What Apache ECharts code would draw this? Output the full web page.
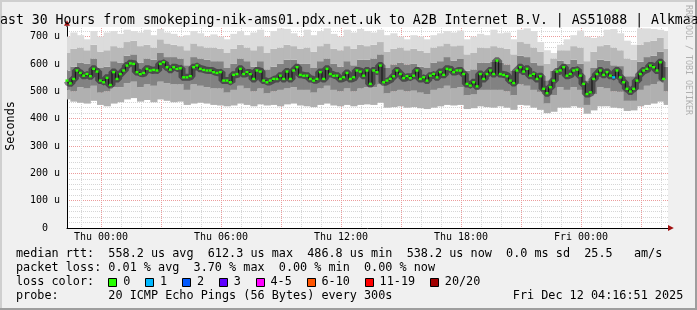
<!DOCTYPE html>
<html><head><meta charset="utf-8">
<script src="https://cdn.jsdelivr.net/npm/echarts@6/dist/echarts.min.js"></script>
<style>html,body{margin:0;padding:0;background:#f0f0f0}#c{width:697px;height:310px}</style>
</head><body><div id="c"></div>
<script>
// ---------- DATA ----------
// time in hours relative to Thu 00:00
const xMin = -1.7, xMax = 28.35;
const yMin = 0, yMax = 735;
const medianStart = -1.7;      // hours
const medianStepH = 10 / 60;   // 10 minutes
// median rtt (microseconds), one value per 10 minutes
const median = [
 539,529,545,576,567,557,563,555,582,572,
 539,533,549,523,570,545,563,576,594,602,
 600,570,563,567,582,576,578,576,600,606,
 588,579,588,582,584,551,551,555,588,594,
 582,578,576,576,570,567,570,539,539,533,
 560,563,582,563,570,563,545,576,572,539,
 533,539,545,545,557,545,572,545,576,588,
 560,557,557,545,539,545,570,545,582,563,
 557,557,
 545,551,567,545,551,576,572,557,576,527,
 576,570,594,533,539,545,555,576,563,548,
 555,548,557,576,545,551,539,557,563,551,
 570,560,582,579,570,576,576,563,527,521,
 533,518,563,545,563,576,563,612,563,560,
 555,539,530,576,588,572,582,557,563,545,
 555,509,493,515,539,572,576,588,557,563,
 576,579,557,527,490,496,545,563,576,560,
 570,557,551,576,551,533,509,499,509,539,
 563,576,582,594,588,576,606,545
];
// [median index, lost pings]
const lossEvents = [[164, 1]];
// smoke envelopes (microseconds), one value per 20 minutes
const smokeStart = -1.7, smokeStepH = 20 / 60;
const smokeMin = [470,462,458,455,465,450,445,455,460,470,475,462,468,460,470,465,460,462,450,455,
 458,455,450,448,445,448,455,450,445,452,448,450,445,452,455,448,445,442,450,455,
 448,445,450,445,450,452,450,458,440,442,445,440,442,438,435,440,445,450,448,450,
 435,438,445,442,440,445,440,432,450,448,440,432,420,425,440,440,445,440,418,430,
 445,445,440,438,428,430,445,450,455,462,450];
const smokeLo = [505,500,515,510,520,495,500,515,515,530,535,515,525,520,535,530,525,525,505,525,
 520,515,510,510,495,505,520,510,500,510,492,500,505,510,515,505,505,495,510,520,
 505,500,510,500,510,515,515,525,492,500,505,500,502,495,490,505,510,520,510,515,
 485,488,505,505,505,505,500,485,525,520,505,498,455,485,515,505,515,505,450,490,
 515,510,500,498,465,465,505,520,525,535,500];
const smokeHi = [575,590,605,600,620,585,590,610,605,630,635,605,620,615,640,625,625,620,595,625,
 620,615,610,610,585,600,620,610,590,610,580,590,600,615,615,600,600,585,610,620,
 600,590,610,595,615,615,620,635,585,598,605,598,600,590,585,605,610,625,612,618,
 575,580,605,605,608,605,598,575,630,625,605,595,540,575,612,600,615,600,540,585,
 615,612,595,592,555,555,608,625,630,645,590];
const smokeUp = [640,655,660,650,670,645,650,665,660,680,685,665,670,660,690,675,670,665,650,675,
 665,660,660,655,640,655,670,660,650,665,640,655,660,670,665,655,660,645,665,675,
 655,650,665,655,670,665,670,680,645,655,660,650,655,648,640,660,665,675,665,668,
 635,640,660,658,665,660,655,635,680,675,660,645,600,620,650,650,665,660,610,645,
 665,670,660,650,620,615,670,680,685,695,655];
const smokeMax = [700,715,705,690,720,700,715,720,710,725,720,715,725,705,728,715,710,700,705,720,
 712,700,708,700,690,710,720,705,715,725,700,720,730,728,712,700,725,705,720,730,
 710,700,725,715,728,720,715,725,705,712,700,690,705,700,690,705,712,720,715,722,
 690,700,710,705,725,712,715,690,725,730,720,680,650,640,670,690,705,722,700,695,
 700,725,728,712,685,670,730,730,728,725,720];
// axis ticks
const xTickHours = [0, 6, 12, 18, 24];
const xTickLabels = ['Thu 00:00', 'Thu 06:00', 'Thu 12:00', 'Thu 18:00', 'Fri 00:00'];
const lossLabels = ['0', '1', '2', '3', '4-5', '6-10', '11-19', '20/20'];
const lossColors = ['#26ff00', '#00b8ff', '#0059ff', '#5e00ff', '#ff00ff', '#ff5500', '#ff0000', '#a10000'];
const titleText = 'ast 30 Hours from smokeping-nik-ams01.pdx.net.uk to A2B Internet B.V. | AS51088 | Alkmaa';
const legendRow1 = 'median rtt:  558.2 us avg  612.3 us max  486.8 us min  538.2 us now  0.0 ms sd  25.5   am/s';
const legendRow2 = 'packet loss: 0.01 % avg  3.70 % max  0.00 % min  0.00 % now';
const legendRow3 = 'loss color:';
const legendRow4 = 'probe:       20 ICMP Echo Pings (56 Bytes) every 300s';
const dateText = 'Fri Dec 12 04:16:51 2025';

// ---------- BUILD ----------
const mono = "'DejaVu Sans Mono', monospace";
const majorGridColor = '#ec9c9c', minorGridColor = '#d6d6d6';
const chart = echarts.init(document.getElementById('c'), null, {renderer: 'canvas'});

const lossAt = {};
lossEvents.forEach(([k, n]) => lossAt[k] = n);
const medianData = median.map((v, k) => ({
  value: [medianStart + k * medianStepH, v],
  itemStyle: {color: lossColors[lossAt[k] || 0]}
}));
const smokeData = smokeMin.map((v, j) => [smokeStart + j * smokeStepH, v, smokeLo[j], smokeHi[j], smokeUp[j], smokeMax[j]]);
const bandColors = ['#b0b0b0', '#828282', '#b8b8b8', '#dcdcdc'];

function renderSmoke(params, api) {
  const t = api.value(0);
  const w = api.size([smokeStepH, 0])[0];
  const children = [];
  for (let b = 0; b < 4; b++) {
    const p0 = api.coord([t, api.value(1 + b)]);
    const p1 = api.coord([t, api.value(2 + b)]);
    children.push({type: 'rect', shape: {x: p0[0] - w / 2, y: p1[1], width: w + 0.5, height: p0[1] - p1[1]},
      style: {fill: bandColors[b]}});
  }
  return {type: 'group', children};
}

const option = {
  backgroundColor: '#f0f0f0',
  animation: false,
  grid: {left: 67, right: 29, top: 27, bottom: 82, show: true, backgroundColor: '#ffffff', borderWidth: 0},
  xAxis: [{
    type: 'value', min: xMin, max: xMax, z: 3,
    axisLine: {show: true, onZero: false, lineStyle: {color: '#000', width: 1}},
    axisTick: {show: false}, splitLine: {show: false},
    axisLabel: {customValues: xTickHours, formatter: v => {const i = xTickHours.indexOf(v); return i >= 0 ? xTickLabels[i] : '';},
      color: '#000', fontFamily: mono, fontSize: 10, margin: 4}
  }],
  yAxis: [{
    type: 'value', position: 'left', min: yMin, max: yMax, interval: 20, z: 0,
    axisLine: {show: false}, axisTick: {show: false}, axisLabel: {show: false},
    splitLine: {show: true, showMinLine: false, showMaxLine: false, lineStyle: {color: minorGridColor, type: [1, 1], width: 1}}
  }, {
    type: 'value', position: 'left', min: yMin, max: yMax, interval: 100, z: 1,
    axisLine: {show: true, lineStyle: {color: '#000', width: 1}}, axisTick: {show: false},
    axisLabel: {color: '#000', fontFamily: mono, fontSize: 10, margin: 7, showMaxLabel: false,
      formatter: v => v === 0 ? '0  ' : v + ' u'},
    splitLine: {show: true, showMinLine: false, showMaxLine: false, lineStyle: {color: majorGridColor, type: [1, 1], width: 1}}
  }],
  series: [
    {type: 'custom', renderItem: renderSmoke, data: smokeData, z: 2, silent: true, clip: true,
      encode: {x: 0, y: [1, 5]}},
    {type: 'line', step: 'middle', data: medianData.map(d => d.value), symbol: 'none', z: 3, silent: true,
      lineStyle: {color: 'rgba(20,20,20,0.5)', width: 7}},
    {type: 'line', step: 'middle', data: medianData, z: 4, silent: true,
      symbol: 'rect', symbolSize: [3, 2.4], showSymbol: true, showAllSymbol: true,
      lineStyle: {color: '#111', width: 1}, itemStyle: {color: lossColors[0], borderWidth: 0}}
  ]
};
chart.setOption(option);

// ---------- decorations / text ----------
const pX = chart.convertToPixel({gridIndex: 0}, [xMax, yMin]);
const pY = chart.convertToPixel({gridIndex: 0}, [xMin, yMax]);
const cw = 7.1, lx = 16;
const rowY = [253.8, 267.8, 281.8, 295.6];
function txt(text, x, y, size, extra) {
  return {type: 'text', x, y, z: 100, silent: true,
    style: Object.assign({text, fill: '#000', fontFamily: mono, fontSize: size,
      font: size + 'px ' + mono,
      align: 'left', verticalAlign: 'middle', textAlign: 'left', textVerticalAlign: 'middle'}, extra || {})};
}
const g = [];
// vertical time grid lines (hourly minor, 3-hourly major), placed through the x scale, under the smoke
for (let h = Math.ceil(xMin); h <= Math.floor(xMax); h++) {
  const a = chart.convertToPixel({gridIndex: 0}, [h, yMin]);
  const b = chart.convertToPixel({gridIndex: 0}, [h, yMax]);
  const x = Math.round(a[0]) + 0.5;
  g.push({type: 'line', z: 1, silent: true, shape: {x1: x, y1: Math.round(a[1]) - 1, x2: x, y2: Math.round(b[1])},
    style: {stroke: h % 3 === 0 ? majorGridColor : minorGridColor, lineWidth: 1, lineDash: [1, 1]}});
}
// frame
g.push({type: 'rect', z: 99, silent: true, shape: {x: 0, y: 0, width: 697, height: 2}, style: {fill: '#cfcfcf'}});
g.push({type: 'rect', z: 99, silent: true, shape: {x: 0, y: 0, width: 2, height: 310}, style: {fill: '#cfcfcf'}});
g.push({type: 'rect', z: 99, silent: true, shape: {x: 0, y: 308, width: 697, height: 2}, style: {fill: '#9e9e9e'}});
g.push({type: 'rect', z: 99, silent: true, shape: {x: 695, y: 0, width: 2, height: 310}, style: {fill: '#9e9e9e'}});
// title
g.push(txt(titleText, 0, 20.3, 13.2));
// arrows
g.push({type: 'line', z: 50, silent: true, shape: {x1: pY[0], y1: pY[1], x2: pY[0], y2: pY[1] - 1.5}, style: {stroke: '#000', lineWidth: 1}});
g.push({type: 'polygon', z: 51, silent: true, shape: {points: [[pY[0] - 3, pY[1] - 1.2], [pY[0], pY[1] - 6.8], [pY[0] + 3, pY[1] - 1.2]]}, style: {fill: '#a01010'}});
g.push({type: 'polygon', z: 51, silent: true, shape: {points: [[pX[0], pX[1] - 3], [pX[0] + 5.8, pX[1]], [pX[0], pX[1] + 3]]}, style: {fill: '#a01010'}});
// axis title
g.push(Object.assign(txt('Seconds', 10.5, 126, 11.8, {align: 'center', textAlign: 'center'}), {rotation: Math.PI / 2}));
// watermark
g.push(Object.assign(txt('RRDTOOL / TOBI OETIKER', 688.5, 60, 8.3, {align: 'center', textAlign: 'center', fill: '#b0b0b0'}), {rotation: -Math.PI / 2}));
// legend rows
g.push(txt(legendRow1, lx, rowY[0], 11.8));
g.push(txt(legendRow2, lx, rowY[1], 11.8));
g.push(txt(legendRow3, lx, rowY[2], 11.8));
g.push(txt(legendRow4, lx, rowY[3], 11.8));
g.push(txt(dateText, 512.8, rowY[3], 11.8));
let cur = 108.3;
lossLabels.forEach((lab, i) => {
  g.push({type: 'rect', z: 100, silent: true, shape: {x: Math.round(cur) + 0.5, y: 278.5, width: 8, height: 8},
    style: {fill: lossColors[i], stroke: '#000', lineWidth: 1}});
  g.push(txt(lab, cur + 15, rowY[2], 11.8));
  cur += 29.7 + lab.length * cw;
});
chart.setOption({graphic: {elements: g}});
</script>
</body></html>
